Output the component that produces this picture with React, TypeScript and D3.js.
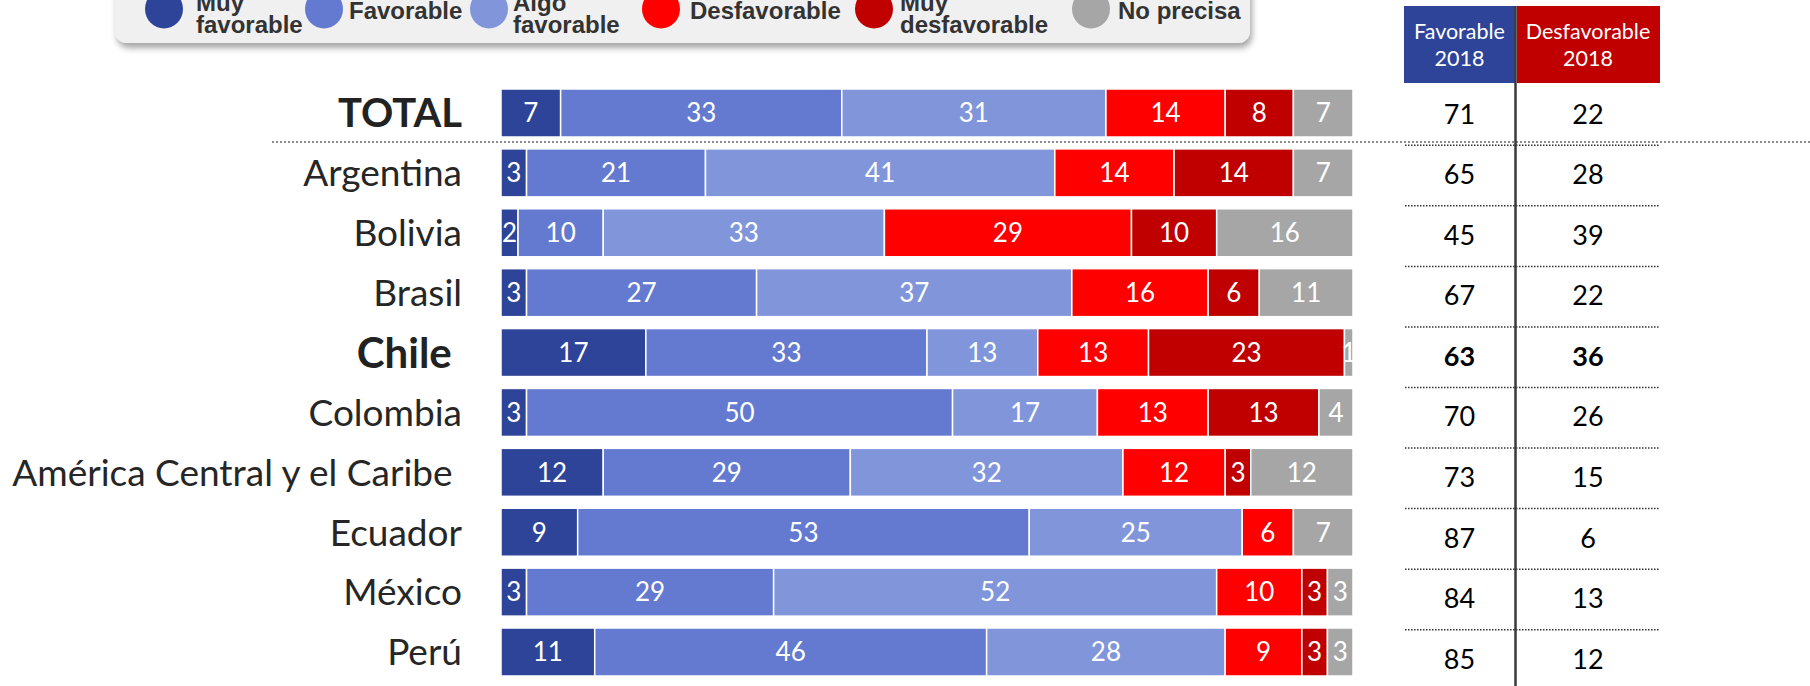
import React from "react";
import * as d3 from "d3";

const categories = ["TOTAL", "Argentina", "Bolivia", "Brasil", "Chile", "Colombia", "América Central y el Caribe", "Ecuador", "México", "Perú"];
const boldCategories = ["TOTAL", "Chile"];
const muyFavorable = [7, 3, 2, 3, 17, 3, 12, 9, 3, 11];
const favorable = [33, 21, 10, 27, 33, 50, 29, 53, 29, 46];
const algoFavorable = [31, 41, 33, 37, 13, 17, 32, 25, 52, 28];
const desfavorable = [14, 14, 29, 16, 13, 13, 12, 6, 10, 9];
const muyDesfavorable = [8, 14, 10, 6, 23, 13, 3, 0, 3, 3];
const noPrecisa = [7, 7, 16, 11, 1, 4, 12, 7, 3, 3];
const favorable2018 = [71, 65, 45, 67, 63, 70, 73, 87, 84, 85];
const desfavorable2018 = [22, 28, 39, 22, 36, 26, 15, 6, 13, 12];

const seriesKeys = ["muyFavorable", "favorable", "algoFavorable", "desfavorable", "muyDesfavorable", "noPrecisa"];
const seriesLegend = [["Muy", "favorable"], ["Favorable"], ["Algo", "favorable"], ["Desfavorable"], ["Muy", "desfavorable"], ["No precisa"]];
const seriesColors = ["#2E4499", "#637AD0", "#8196DA", "#FF0000", "#C00000", "#A6A6A6"];
const tableHeaders = [["Favorable", "2018"], ["Desfavorable", "2018"]];
const tableColors = ["#2E4499", "#C00000"];

// layout constants
const W = 1810, H = 686;
const legendCircleX = [164, 324, 489, 661, 874, 1091];
const legendTextX = [196, 349, 513, 690, 900, 1118];

const rows = categories.map((c, i) => ({
  cat: c,
  muyFavorable: muyFavorable[i],
  favorable: favorable[i],
  algoFavorable: algoFavorable[i],
  desfavorable: desfavorable[i],
  muyDesfavorable: muyDesfavorable[i],
  noPrecisa: noPrecisa[i],
}));

export default function App() {
  const x = d3.scaleLinear().domain([0, 100]).range([501, 1353]);
  const y = d3.scalePoint<string>().domain(categories).range([113, 652]);
  const yt = d3.scalePoint<string>().domain(categories).range([114, 659]);
  const barH = 48;
  const stack = d3.stack<any>().keys(seriesKeys)(rows);
  const colX = [1459.5, 1588];
  const colEdges = [[1404, 1515], [1517, 1660]];
  const tableStep = yt.step();
  const font = "Lato, 'Open Sans', sans-serif";

  return (
    <svg width={W} height={H} style={{ position: "absolute", left: 0, top: 0, display: "block", background: "#fff" }}>
      <defs>
        <filter id="shadow" x="-5%" y="-50%" width="110%" height="200%">
          <feDropShadow dx="2" dy="5" stdDeviation="3" floodColor="#000" floodOpacity="0.35" />
        </filter>
      </defs>
      {/* Legend */}
      <rect x={115} y={-30} width={1135} height={73} rx={12} fill="#F0F0F0" filter="url(#shadow)" />
      {seriesLegend.map((lines, i) => (
        <g key={i}>
          <ellipse cx={legendCircleX[i]} cy={9} rx={19} ry={19.5} fill={seriesColors[i]} />
          <text x={legendTextX[i]} fontFamily="'Liberation Sans', Arial, sans-serif" fontWeight="bold" fontSize={24} fill="#333">
            {lines.length === 2 ? (
              <>
                <tspan x={legendTextX[i]} y={11}>{lines[0]}</tspan>
                <tspan x={legendTextX[i]} y={33}>{lines[1]}</tspan>
              </>
            ) : (
              <tspan x={legendTextX[i]} y={19}>{lines[0]}</tspan>
            )}
          </text>
        </g>
      ))}

      {/* dotted line under TOTAL */}
      <line x1={272} x2={W} y1={142} y2={142} stroke="#8C8C8C" strokeWidth={2} strokeDasharray="2,2" />

      {/* Category labels */}
      {categories.map((c) => {
        const isTotal = c === "TOTAL";
        const bold = boldCategories.includes(c);
        return (
          <text key={c} x={462} y={(y(c) as number)} dy="0.36em" textAnchor="end" fontFamily={font}
            fontWeight={bold ? "bold" : "normal"} fontSize={isTotal ? 40 : bold ? 42 : 37} fill={bold ? "#222" : "#262626"}
            style={{ whiteSpace: "pre" }}>
            {c === "Chile" ? "Chile " : c === "América Central y el Caribe" ? "América Central y el Caribe " : c}
          </text>
        );
      })}

      {/* Bars */}
      {stack.map((s, si) => (
        <g key={s.key}>
          {s.map((d, ri) => {
            const v = d[1] - d[0];
            if (v <= 0) return null;
            const cy = y(categories[ri]) as number;
            return (
              <g key={ri}>
                <rect x={x(d[0])} y={cy - barH / 2} width={x(d[1]) - x(d[0])} height={barH}
                  fill={seriesColors[si]} stroke="#fff" strokeWidth={1.5} />
                <text x={(x(d[0]) + x(d[1])) / 2} y={cy} dy="0.36em" textAnchor="middle" fontFamily={font}
                  fontSize={26} fill="#fff">{v}</text>
              </g>
            );
          })}
        </g>
      ))}

      {/* Table header */}
      {tableHeaders.map((lines, i) => (
        <g key={i}>
          <rect x={colEdges[i][0]} y={6} width={colEdges[i][1] - colEdges[i][0]} height={77} fill={tableColors[i]} />
          <text x={colX[i]} textAnchor="middle" fontFamily={font} fontSize={21.5} fill="#fff">
            <tspan x={colX[i]} y={39}>{lines[0]}</tspan>
            <tspan x={colX[i]} y={66}>{lines[1]}</tspan>
          </text>
        </g>
      ))}
      {/* Table values */}
      {categories.map((c, i) => {
        const bold = c === "Chile";
        const cy = yt(c) as number;
        return (
          <g key={c}>
            <text x={colX[0]} y={cy} dy="0.36em" textAnchor="middle" fontFamily={font} fontSize={27}
              fontWeight={bold ? "bold" : "normal"} fill="#000">{favorable2018[i]}</text>
            <text x={colX[1]} y={cy} dy="0.36em" textAnchor="middle" fontFamily={font} fontSize={27}
              fontWeight={bold ? "bold" : "normal"} fill="#000">{desfavorable2018[i]}</text>
            {i < categories.length - 1 && (
              <line x1={1405} x2={1659} y1={cy + tableStep / 2 + 1} y2={cy + tableStep / 2 + 1}
                stroke="#333" strokeWidth={1.5} strokeDasharray="1.5,1.5" />
            )}
          </g>
        );
      })}
      <line x1={1515.5} x2={1515.5} y1={6} y2={H} stroke="#3A3A3A" strokeWidth={2.5} />
    </svg>
  );
}
